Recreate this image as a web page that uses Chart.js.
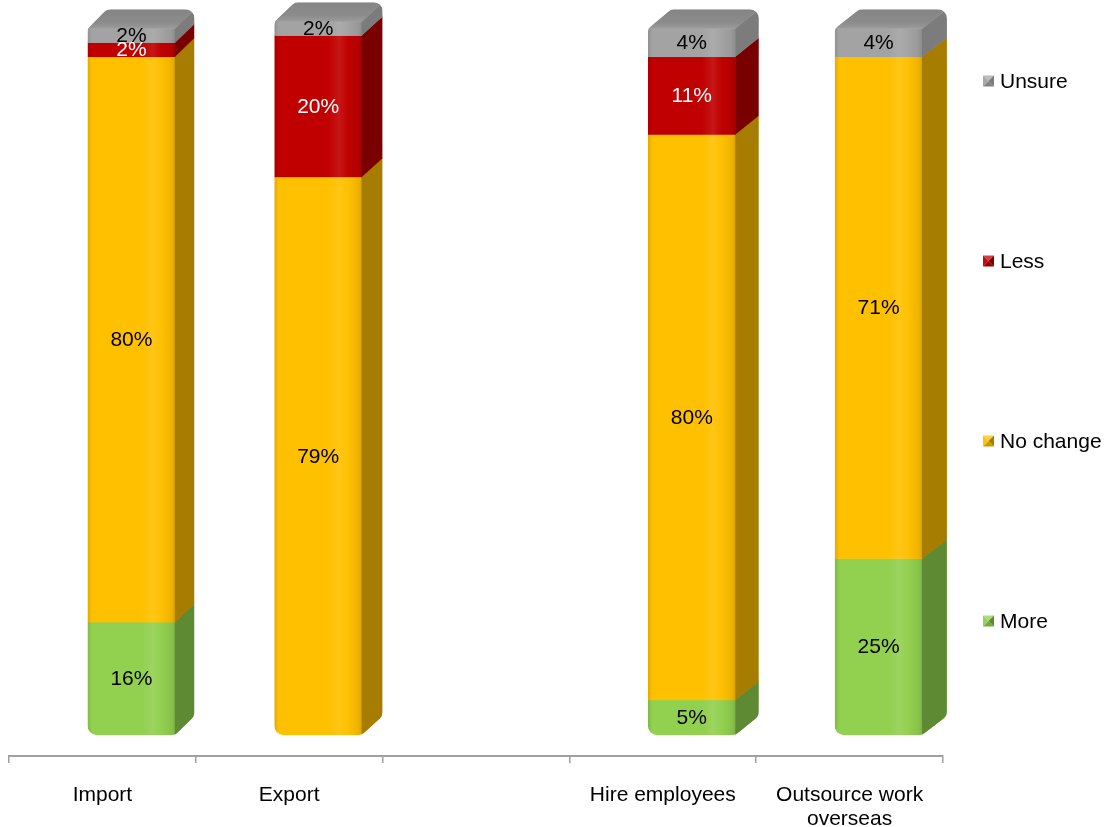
<!DOCTYPE html>
<html>
<head>
<meta charset="utf-8">
<title>Trade and staffing outlook</title>
<script src="https://cdn.jsdelivr.net/npm/chart.js@4.4.1/dist/chart.umd.min.js"></script>
<style>
  html, body { margin: 0; padding: 0; background: #ffffff; }
  #wrap { width: 1105px; height: 827px; }
</style>
</head>
<body>
<div id="wrap"><canvas id="myChart" width="1105" height="827"></canvas></div>
<script>
// categories (empty slot keeps the gap between Export and Hire employees)
var categories = [['Import'], ['Export'], [''], ['Hire employees'], ['Outsource work', 'overseas']];

// percentages per answer, stacked bottom to top
var moreValues = [16, 0, null, 5, 25];
var noChangeValues = [80, 79, null, 80, 71];
var lessValues = [2, 20, null, 11, 0];
var unsureValues = [2, 2, null, 4, 4];

var seriesNames = ['More', 'No change', 'Less', 'Unsure'];

// colours: front face, side face, top face, label text
var faceColors = ['#92D050', '#FFC000', '#C00000', '#A3A3A3'];
var sideColors = ['#5E8A33', '#A67D00', '#7A0000', '#7C7C7C'];
var topColors = ['#7FB646', '#D9A300', '#A00000', '#8C8C8C'];
var labelColors = ['#000000', '#000000', '#ffffff', '#000000'];

var FONT = "'Liberation Sans', Arial, sans-serif";
var SHIFT_X = 29;   // bars sit behind the axis line in the 3D view
var SHIFT_Y = -21;
var DEPTH_Y = 19;

function shade(hex, f) {
  var n = parseInt(hex.slice(1), 16);
  var r = (n >> 16) & 255, g = (n >> 8) & 255, b = n & 255;
  function c(v) {
    v = f >= 0 ? v + (255 - v) * f : v * (1 + f);
    return Math.max(0, Math.min(255, Math.round(v)));
  }
  return 'rgb(' + c(r) + ',' + c(g) + ',' + c(b) + ')';
}

function roundedPoly(ctx, pts, r) {
  var n = pts.length;
  var a = pts[n - 1], b = pts[0];
  ctx.beginPath();
  ctx.moveTo((a.x + b.x) / 2, (a.y + b.y) / 2);
  for (var i = 0; i < n; i++) {
    var p = pts[i], q = pts[(i + 1) % n];
    ctx.arcTo(p.x, p.y, q.x, q.y, r);
  }
  ctx.closePath();
}

function frontGradient(ctx, left, right, base) {
  var g = ctx.createLinearGradient(left, 0, right, 0);
  g.addColorStop(0, shade(base, -0.12));
  g.addColorStop(0.05, base);
  g.addColorStop(0.62, base);
  g.addColorStop(0.74, shade(base, 0.09));
  g.addColorStop(0.84, base);
  g.addColorStop(0.95, shade(base, -0.06));
  g.addColorStop(1, shade(base, -0.15));
  return g;
}

// draws each stacked column as a rounded 3D prism from the bar elements
var bars3d = {
  id: 'bars3d',
  afterDatasetsDraw: function (chart) {
    var ctx = chart.ctx;
    var nCat = chart.data.labels.length;
    for (var i = 0; i < nCat; i++) {
      var segs = [];
      chart.data.datasets.forEach(function (ds, d) {
        var v = ds.data[i];
        if (!v) return;
        var el = chart.getDatasetMeta(d).data[i];
        var p = el.getProps(['x', 'y', 'base', 'width'], true);
        segs.push({
          d: d,
          left: p.x - p.width / 2 + SHIFT_X,
          right: p.x + p.width / 2 + SHIFT_X,
          top: p.y + SHIFT_Y,
          bottom: p.base + SHIFT_Y
        });
      });
      if (!segs.length) continue;

      var L = segs[0].left, R = segs[0].right;
      var B = segs[0].bottom, T = segs[segs.length - 1].top;
      var dx = 18 + 0.007 * R;
      var dy = DEPTH_Y;

      ctx.save();
      roundedPoly(ctx, [
        { x: L, y: B }, { x: L, y: T }, { x: L + dx, y: T - dy },
        { x: R + dx, y: T - dy }, { x: R + dx, y: B - dy }, { x: R, y: B }
      ], 9);
      ctx.clip();

      segs.forEach(function (s) {
        // front face
        ctx.fillStyle = frontGradient(ctx, L, R, faceColors[s.d]);
        ctx.fillRect(L, s.top, R - L, s.bottom - s.top + 0.5);
        // side face
        ctx.fillStyle = sideColors[s.d];
        ctx.beginPath();
        ctx.moveTo(R - 0.5, s.bottom + 0.5);
        ctx.lineTo(R - 0.5, s.top);
        ctx.lineTo(R + dx, s.top - dy);
        ctx.lineTo(R + dx, s.bottom - dy + 0.5);
        ctx.closePath();
        ctx.fill();
      });

      // top face of the highest segment
      var topSeg = segs[segs.length - 1];
      var tg = ctx.createLinearGradient(0, T - dy, 0, T);
      tg.addColorStop(0, shade(topColors[topSeg.d], -0.05));
      tg.addColorStop(0.7, topColors[topSeg.d]);
      tg.addColorStop(1, shade(topColors[topSeg.d], 0.12));
      ctx.fillStyle = tg;
      ctx.beginPath();
      ctx.moveTo(L, T + 0.5);
      ctx.lineTo(L + dx, T - dy);
      ctx.lineTo(R + dx, T - dy);
      ctx.lineTo(R, T + 0.5);
      ctx.closePath();
      ctx.fill();
      ctx.restore();
    }

    // value labels in the middle of each front face
    ctx.save();
    ctx.font = '21px ' + FONT;
    ctx.textAlign = 'center';
    ctx.textBaseline = 'middle';
    chart.data.datasets.forEach(function (ds, d) {
      chart.getDatasetMeta(d).data.forEach(function (el, i) {
        var v = ds.data[i];
        if (!v) return;
        var p = el.getProps(['x', 'y', 'base'], true);
        ctx.fillStyle = labelColors[d];
        ctx.fillText(v + '%', p.x + SHIFT_X, (p.y + p.base) / 2 + SHIFT_Y + 1);
      });
    });
    ctx.restore();
  }
};

// legend on the right, spread down the plot height, top item = last series
var sideLegend = {
  id: 'sideLegend',
  afterDraw: function (chart) {
    var ctx = chart.ctx;
    var n = chart.data.datasets.length;
    var x = 983, size = 11, firstY = 81, step = 180;
    ctx.save();
    ctx.font = '21px ' + FONT;
    ctx.textBaseline = 'middle';
    ctx.textAlign = 'left';
    for (var k = 0; k < n; k++) {
      var d = n - 1 - k;
      var cy = firstY + k * step;
      var y0 = cy - size / 2;
      var base = faceColors[d];
      var tris = [
        [[x, y0], [x + size, y0], shade(base, 0.25)],
        [[x + size, y0], [x + size, y0 + size], sideColors[d]],
        [[x + size, y0 + size], [x, y0 + size], shade(base, -0.2)],
        [[x, y0 + size], [x, y0], shade(base, 0.05)]
      ];
      tris.forEach(function (t) {
        ctx.fillStyle = t[2];
        ctx.beginPath();
        ctx.moveTo(t[0][0], t[0][1]);
        ctx.lineTo(t[1][0], t[1][1]);
        ctx.lineTo(x + size / 2, y0 + size / 2);
        ctx.closePath();
        ctx.fill();
      });
      ctx.fillStyle = '#000000';
      ctx.fillText(chart.data.datasets[d].label, x + size + 6, cy + 1);
    }
    ctx.restore();
  }
};

var seriesValues = [moreValues, noChangeValues, lessValues, unsureValues];

var ctx = document.getElementById('myChart').getContext('2d');
var myChart = new Chart(ctx, {
  type: 'bar',
  data: {
    labels: categories,
    datasets: seriesNames.map(function (name, d) {
      return {
        label: name,
        data: seriesValues[d],
        backgroundColor: 'rgba(0,0,0,0)',
        borderWidth: 0,
        categoryPercentage: 1,
        barPercentage: 0.47
      };
    })
  },
  options: {
    responsive: false,
    animation: false,
    devicePixelRatio: 1,
    layout: { padding: { top: 21, left: 9, right: 162, bottom: 0 } },
    scales: {
      x: {
        stacked: true,
        grid: {
          display: true,
          offset: true,
          drawOnChartArea: false,
          drawTicks: true,
          tickLength: 7,
          color: '#A0A0A0',
          lineWidth: 1.5
        },
        border: { display: true, color: '#A0A0A0', width: 2 },
        ticks: {
          color: '#000000',
          font: { family: FONT, size: 21, lineHeight: 1.15 },
          padding: 20,
          maxRotation: 0,
          autoSkip: false
        },
        afterFit: function (scale) {
          scale.height = 71;
        }
      },
      y: {
        stacked: true,
        display: false,
        min: 0,
        max: 104
      }
    },
    plugins: {
      legend: { display: false },
      tooltip: { enabled: false }
    }
  },
  plugins: [bars3d, sideLegend]
});
</script>
</body>
</html>
